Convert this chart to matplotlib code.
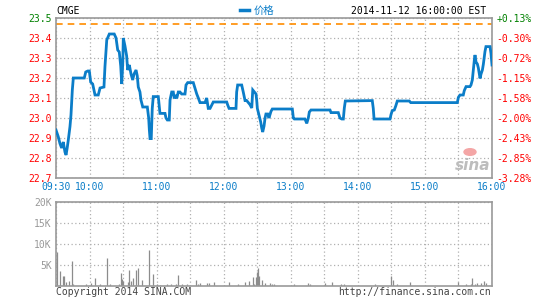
import matplotlib
matplotlib.use("Agg")
import matplotlib.pyplot as plt

# 分时数据: 开盘后分钟数, 价格
minutes = [0, 2, 3.5, 5, 6.5, 8, 9, 10, 11, 12.5, 13.4, 14.6, 15.5, 25.3, 26.6, 28.4, 29.8,
           31, 32.8, 34, 34.9, 37.8, 39.4, 42.9, 43.8, 45.4, 47.7, 52.1, 53.7, 55.2, 56.6,
           57.9, 58.8, 59.7, 60.2, 61.7, 63.2, 64.1, 65.6, 67.1, 68.6, 69.8, 71.6, 72.7,
           73.6, 75.1, 76, 77.6, 81.7, 82.9, 83.5, 84.1, 85.2, 86.1, 87, 91.5, 92.4, 93,
           97.5, 98.4, 99.6, 101.3, 102, 103.5, 104.9, 105.8, 107.1, 108, 109.4, 110.9,
           112.4, 115.4, 116.3, 117.8, 122.8, 124.3, 125.9, 127.3, 128.8, 133.3, 134.8,
           136.2, 137.8, 139.3, 140.7, 152.7, 153.6, 154.8, 161, 161.6, 162.5, 166.1,
           167.5, 169.1, 170.6, 172, 173.5, 175.1, 176, 177.4, 178.9, 179.5, 180.1, 181.6,
           183.1, 184, 184.9, 186.1, 187, 187.8, 189.4, 190.5, 191.4, 192.3, 193.5, 211.4,
           212.3, 213.2, 222.7, 224.3, 225.7, 226.6, 228.1, 245.1, 246, 252.5, 254, 255.6,
           257, 257.9, 258.8, 282.9, 283.8, 284.5, 298.8, 299.7, 300.8, 302.6, 303.9,
           305.3, 316, 317.3, 359, 359.9, 361.4, 364.3, 365.2, 366.8, 370.3, 371.2, 372.4,
           373.3, 374.2, 374.8, 375.7, 376.9, 377.8, 378.4, 379.3, 380.2, 381.4, 382.3,
           383.7, 384.6, 388.2, 389.1, 390]
prices = [22.94, 22.907, 22.873, 22.85, 22.88, 22.83, 22.815, 22.85, 22.89, 22.957, 23.015,
          23.14, 23.2, 23.2, 23.23, 23.235, 23.235, 23.18, 23.17, 23.14, 23.115, 23.115,
          23.15, 23.155, 23.257, 23.39, 23.42, 23.42, 23.40, 23.34, 23.33, 23.26, 23.17,
          23.27, 23.40, 23.36, 23.31, 23.24, 23.265, 23.22, 23.19, 23.22, 23.24, 23.21,
          23.155, 23.13, 23.09, 23.055, 23.055, 23.0, 22.94, 22.897, 22.897, 23.048,
          23.107, 23.107, 23.057, 23.023, 23.023, 23.0, 22.99, 22.99, 23.09, 23.13, 23.13,
          23.098, 23.115, 23.098, 23.13, 23.13, 23.12, 23.12, 23.165, 23.177, 23.177,
          23.15, 23.12, 23.1, 23.077, 23.077, 23.1, 23.048, 23.048, 23.065, 23.08, 23.08,
          23.065, 23.048, 23.048, 23.13, 23.165, 23.165, 23.13, 23.087, 23.087, 23.077,
          23.067, 23.05, 23.14, 23.13, 23.12, 23.09, 23.048, 23.015, 22.98, 22.95, 22.93,
          22.96, 23.0, 23.02, 23.02, 23.0, 23.017, 23.033, 23.045, 23.045, 23.0, 22.995,
          22.995, 22.973, 23.0, 23.03, 23.04, 23.04, 23.027, 23.027, 23.0, 22.995, 22.995,
          23.05, 23.085, 23.087, 23.048, 22.995, 22.995, 23.018, 23.037, 23.04, 23.06,
          23.085, 23.085, 23.077, 23.077, 23.103, 23.115, 23.115, 23.137, 23.157, 23.157,
          23.165, 23.19, 23.24, 23.29, 23.315, 23.28, 23.27, 23.25, 23.23, 23.198, 23.22,
          23.24, 23.27, 23.332, 23.357, 23.357, 23.323, 23.265]
prev_close = 23.47

# 成交量 (股)
vol_minutes = [1, 4, 6, 7, 9, 12, 14, 15, 27, 31, 35, 39, 46, 48, 56, 58, 59, 60, 64, 65,
               67, 69, 72, 73, 77, 83, 87, 90, 93, 99, 103, 107, 109, 113, 117, 125, 127,
               129, 135, 137, 141, 155, 163, 169, 173, 176, 177, 179, 180, 181, 182, 184,
               187, 191, 193, 195, 213, 225, 227, 241, 247, 255, 258, 285, 300, 301, 305,
               317, 360, 367, 371, 372, 375, 377, 380, 383, 385]
volumes = [8100, 3400, 2300, 2300, 900, 1100, 5800, 400, 400, 600, 1800, 400, 6600, 500,
           400, 3000, 1600, 1100, 900, 3700, 1200, 1900, 3700, 4100, 1300, 8600, 2700, 400,
           200, 300, 300, 500, 2500, 400, 400, 1300, 400, 600, 600, 600, 900, 900, 400,
           900, 1200, 2000, 400, 2000, 3300, 4100, 2300, 1400, 600, 600, 400, 400, 400,
           600, 400, 600, 900, 400, 400, 400, 2300, 1300, 400, 900, 900, 400, 400, 1800,
           400, 600, 600, 1100, 600]

price_ticks = [22.7, 22.8, 22.9, 23.0, 23.1, 23.2, 23.3, 23.4, 23.5]
price_labels = ["22.7", "22.8", "22.9", "23.0", "23.1", "23.2", "23.3", "23.4", "23.5"]
pct_labels = ["-3.28%", "-2.85%", "-2.43%", "-2.00%", "-1.58%", "-1.15%", "-0.72%",
              "-0.30%", "+0.13%"]
time_ticks = [0, 30, 90, 150, 210, 270, 330, 390]
time_labels = ["09:30", "10:00", "11:00", "12:00", "13:00", "14:00", "15:00", "16:00"]
vol_ticks = [5000, 10000, 15000, 20000]
vol_labels = ["5K", "10K", "15K", "20K"]

MONO = ["DejaVu Sans Mono", "Noto Sans CJK SC"]
plt.rcParams["font.family"] = MONO
BLUE = "#0b7dc8"
GRID = "#b0b0b0"
EDGE = "#999999"

fig = plt.figure(figsize=(5.45, 3.0), dpi=100)
ax = fig.add_axes([56 / 545, 1 - 178 / 300, 436 / 545, 160 / 300])
axv = fig.add_axes([56 / 545, 1 - 285.7 / 300, 436 / 545, 84 / 300])

# 价格图
ax.plot(minutes, prices, color=BLUE, lw=2.0, solid_joinstyle="miter", zorder=3)
ax.axhline(prev_close, color="#ff8c00", lw=1.2, ls=(0, (4, 3)), zorder=2)
ax.set_xlim(0, 390)
ax.set_ylim(22.7, 23.5)
ax.set_xticks(range(0, 391, 30))
ax.set_xticklabels([time_labels[time_ticks.index(t)] if t in time_ticks else "" for t in range(0, 391, 30)])
ax.set_yticks(price_ticks)
ax.set_yticklabels(price_labels)
ax.tick_params(length=0, labelsize=7, pad=3)
for lab in ax.get_xticklabels():
    lab.set_color(BLUE)
for i, lab in enumerate(ax.get_yticklabels()):
    lab.set_color("#008000" if price_ticks[i] > prev_close else "#ff0000")
ax.grid(True, color=GRID, ls=(0, (1, 2)), lw=0.9)
for s in ax.spines.values():
    s.set_color(EDGE)
    s.set_linewidth(1.2)

ax2 = ax.twinx()
ax2.set_ylim(22.7, 23.5)
ax2.set_yticks(price_ticks)
ax2.set_yticklabels(pct_labels)
ax2.tick_params(length=0, labelsize=7, pad=3)
for i, lab in enumerate(ax2.get_yticklabels()):
    lab.set_color("#008000" if price_ticks[i] > prev_close else "#ff0000")
for s in ax2.spines.values():
    s.set_visible(False)

# 成交量图
axv.vlines(vol_minutes, 0, volumes, color="#8c8c8c", lw=0.9)
axv.set_xlim(0, 390)
axv.set_ylim(0, 20000)
axv.set_xticks(range(0, 391, 30))
axv.set_xticklabels([])
axv.set_yticks(vol_ticks)
axv.set_yticklabels(vol_labels)
axv.tick_params(length=0, labelsize=7, pad=3, labelcolor="#999999")
axv.grid(True, color=GRID, ls=(0, (1, 2)), lw=0.9)
for s in axv.spines.values():
    s.set_color(EDGE)
    s.set_linewidth(1.2)

# 标题和文字
fig.text(56 / 545, 1 - 11 / 300, "CMGE", fontsize=7, color="black", va="center", ha="left")
fig.lines.append(plt.Line2D([240 / 545, 249 / 545], [1 - 10 / 300, 1 - 10 / 300],
                            color=BLUE, lw=2.5, transform=fig.transFigure))
fig.text(254 / 545, 1 - 11 / 300, "价格", fontsize=7.5, color=BLUE, va="center", ha="left",
         family=["Noto Sans CJK SC", "DejaVu Sans"])
fig.text(486 / 545, 1 - 11 / 300, "2014-11-12 16:00:00 EST", fontsize=7, color="black",
         va="center", ha="right")
fig.text(56 / 545, 1 - 292 / 300, "Copyright 2014 SINA.COM", fontsize=7, color="#444444",
         va="center", ha="left")
fig.text(491 / 545, 1 - 292 / 300, "http://finance.sina.com.cn", fontsize=7, color="#444444",
         va="center", ha="right")

# 新浪水印
fig.patches.append(plt.Circle((470 / 545, 1 - 152 / 300), 0.011, color="#f4a6a6",
                              transform=fig.transFigure, zorder=0.5))
fig.text(473 / 545, 1 - 166 / 300, "sina", fontsize=11, color="#bdbdbd", style="italic",
         weight="bold", va="center", ha="center", family=["DejaVu Sans"])

fig.savefig("out.png", dpi=100)
